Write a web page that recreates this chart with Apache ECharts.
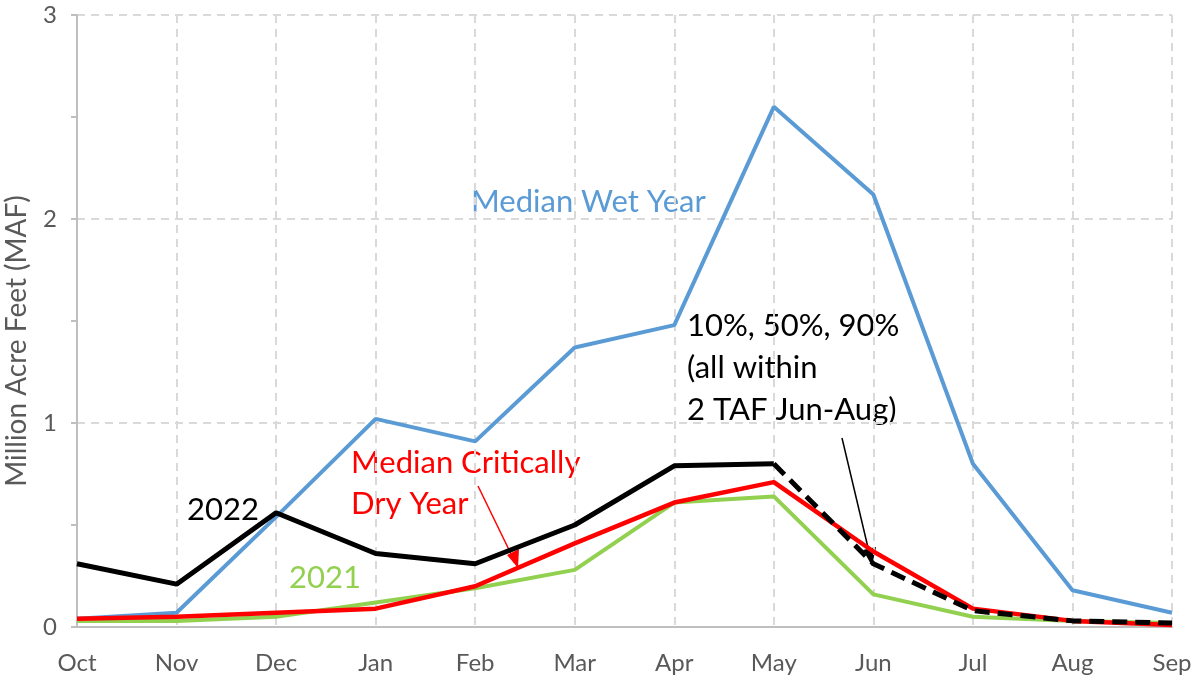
<!DOCTYPE html>
<html>
<head>
<meta charset="utf-8">
<script src="https://cdn.jsdelivr.net/npm/echarts@6/dist/echarts.min.js"></script>
<style>
  html, body { margin: 0; padding: 0; background: #fff; }
  #chart { width: 1201px; height: 680px; }
</style>
</head>
<body>
<div id="chart"></div>
<script>
const months = ["Oct", "Nov", "Dec", "Jan", "Feb", "Mar", "Apr", "May", "Jun", "Jul", "Aug", "Sep"];
const yTicks = [0, 1, 2, 3];

const medianWet = [0.04, 0.07, 0.54, 1.02, 0.91, 1.37, 1.48, 2.55, 2.12, 0.80, 0.18, 0.07];
const medianDry = [0.04, 0.05, 0.07, 0.09, 0.20, 0.41, 0.61, 0.71, 0.37, 0.09, 0.03, 0.01];
const wy2021 = [0.03, 0.03, 0.05, 0.12, 0.19, 0.28, 0.61, 0.64, 0.16, 0.05, 0.03, 0.02];
// observed part of 2022 (Oct-May) and forecast part (May-Sep)
const wy2022 = [0.31, 0.21, 0.56, 0.36, 0.31, 0.50, 0.79, 0.80, null, null, null, null];
const wy2022Forecast = [null, null, null, null, null, null, null, 0.80, 0.31, 0.08, 0.03, 0.02];

const chart = echarts.init(document.getElementById("chart"));
const font = "Lato, 'Open Sans', sans-serif";
const gray = "#595959";

const lineSeries = (name, data, color, width, type) => ({
  name: name,
  type: "line",
  data: data,
  symbol: "none",
  lineStyle: { color: color, width: width, type: type || "solid" },
  itemStyle: { color: color },
  connectNulls: false,
});

// annotation text, placed by the centre of its block
const note = (x, y, text, color, lineHeight) => ({
  type: "text",
  x: x,
  y: y,
  style: {
    text: text,
    fill: color,
    font: "31px " + font,
    lineHeight: lineHeight || 42,
    verticalAlign: "middle",
  },
});

const option = {
  animation: false,
  grid: { left: 77, right: 29, top: 15, bottom: 53, outerBoundsMode: "none", containLabel: false },
  xAxis: {
    type: "category",
    data: months,
    boundaryGap: false,
    axisLine: { lineStyle: { color: "#BFBFBF", width: 2 } },
    axisTick: { show: false },
    axisLabel: { color: gray, fontSize: 24, fontFamily: font, margin: 24 },
    splitLine: { show: true, lineStyle: { color: "#D9D9D9", type: [8, 6], width: 2 } },
  },
  yAxis: {
    type: "value",
    min: 0,
    max: 3,
    interval: 1,
    name: "Million Acre Feet (MAF)",
    nameLocation: "middle",
    nameGap: 46,
    nameTextStyle: { color: gray, fontSize: 28, fontFamily: font, padding: [0, 40, 0, 0] },
    axisLine: { show: true, lineStyle: { color: "#BFBFBF", width: 2 } },
    axisTick: { show: true, length: 6, lineStyle: { color: "#BFBFBF", width: 2 } },
    minorTick: { show: true, splitNumber: 2, length: 6, lineStyle: { color: "#BFBFBF", width: 2 } },
    axisLabel: {
      color: gray, fontSize: 24, fontFamily: font, margin: 20,
      formatter: (v) => (yTicks.includes(v) ? String(v) : ""),
    },
    splitLine: { show: true, lineStyle: { color: "#D9D9D9", type: [8, 6], width: 2 } },
  },
  series: [
    lineSeries("Median Wet Year", medianWet, "#5B9BD5", 4),
    lineSeries("2021", wy2021, "#92D050", 4),
    lineSeries("Median Critically Dry Year", medianDry, "#FF0000", 4.5),
    lineSeries("2022", wy2022, "#000000", 5),
    lineSeries("2022 forecast", wy2022Forecast, "#000000", 5, [15, 8]),
  ],
  graphic: [
    note(471, 202, "Median Wet Year", "#5B9BD5"),
    note(687, 368, "10%, 50%, 90%\n(all within\n2 TAF Jun-Aug)", "#000"),
    note(351, 483, "Median Critically\nDry Year", "#FF0000", 41),
    note(187, 510, "2022", "#000"),
    note(289, 578, "2021", "#92D050"),
    {
      type: "line",
      shape: { x1: 842, y1: 438, x2: 870, y2: 556 },
      style: { stroke: "#000", lineWidth: 1.5 },
    },
    {
      type: "polygon",
      shape: { points: [[872, 566], [863, 550], [876, 547]] },
      style: { fill: "#000" },
    },
    {
      type: "line",
      shape: { x1: 478, y1: 486, x2: 513, y2: 558 },
      style: { stroke: "#FF0000", lineWidth: 1.5 },
    },
    {
      type: "polygon",
      shape: { points: [[518, 568], [507, 555], [519, 549]] },
      style: { fill: "#FF0000" },
    },
  ],
};

chart.setOption(option);
</script>
</body>
</html>
